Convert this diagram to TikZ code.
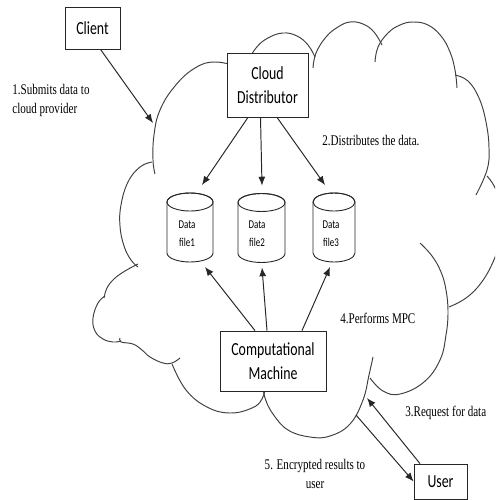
\documentclass[tikz,border=0pt]{standalone}
\usepackage{fontspec}
\setmainfont{Liberation Serif}[FakeStretch=0.75]
\newfontfamily\calibfont{Carlito}[FakeStretch=0.75]
\usetikzlibrary{arrows.meta,calc}
\tikzset{
  box/.style={draw=black!85, line width=0.45pt, fill=white, font=\calibfont\fontsize{10.5}{13.5}\selectfont, align=center, inner sep=0pt},
  arr/.style={draw=black!85, line width=0.55pt, -{Latex[length=5pt,width=4pt]}},
  cloudline/.style={draw=black!75, line width=0.55pt, smooth, tension=0.7},
  lbl/.style={font=\fontsize{8.4}{10.8}\selectfont, inner sep=0pt},
  dbtext/.style={font=\calibfont\fontsize{6.8}{10.2}\selectfont, align=center, inner sep=0pt},
  cylline/.style={draw=black!85, line width=0.5pt, fill=white},
  cylnode/.style={inner sep=0pt, outer sep=0pt, minimum height=1.38cm}
}
\newcommand\dbcyl[2]{%
  \draw[cylline] ($(#1.north west)+(0,9)$) -- ($(#1.south west)+(0,-9)$)
    arc[start angle=180,end angle=360,x radius=#2,y radius=0.18cm]
    -- ($(#1.north east)+(0,9)$)
    arc[start angle=0,end angle=180,x radius=#2,y radius=0.18cm] -- cycle;
  \draw[cylline,fill=none] ($(#1.north)+(0,9)$) ellipse[x radius=#2,y radius=0.18cm];}
\begin{document}
\begin{tikzpicture}[x=0.02cm,y=-0.02cm]
\useasboundingbox[fill=white] (0,0) rectangle (495,500);
% cloud
\begin{scope}
\clip (0,0) rectangle (495,500);
\draw[cloudline] plot coordinates {(155,174) (153,160) (154,135) (160,110) (175,86) (195,68) (215,62) (240,67)};
\draw[cloudline] plot coordinates {(245,66) (256,48) (268,38) (283,33) (297,36) (308,45) (315,57)};
\draw[cloudline] plot coordinates {(313,68) (316,53) (326,37) (338,27) (350,22) (363,24) (374,32) (382,45)};
\draw[cloudline] plot coordinates {(375,62) (378,47) (388,33) (400,25) (413,22) (428,25) (441,36) (450,52) (455,70) (457,88)};
\draw[cloudline] plot coordinates {(455,75) (468,81) (479,98) (486,122) (489,148) (487,170) (476,195)};
\draw[cloudline] plot coordinates {(487,176) (496,190) (502,215) (500,240) (493,262) (481,283) (466,298) (449,307)};
\draw[cloudline] plot coordinates {(420,243) (432,256) (441,272) (446,290) (448,312) (446,335) (440,360) (424,382) (400,394) (383,391) (370,378)};
\draw[cloudline] plot coordinates {(373,357) (369,375) (363,400) (350,424) (330,436) (310,437) (288,430) (273,414) (265,398) (263,385)};
\draw[cloudline] plot coordinates {(266,385) (262,399) (252,408) (230,413) (207,407) (186,390) (172,364)};
\draw[cloudline] plot coordinates {(152,162) (140,167) (128,182) (121,205) (120,226) (124,246) (131,260) (138,267)};
\draw[cloudline] plot coordinates {(138,264) (125,271) (114,279) (107,288) (104,298)};
\draw[cloudline] plot coordinates {(105,296) (98,303) (93,318) (95,331) (103,339) (113,342) (121,341)};
\draw[cloudline] plot coordinates {(120,338) (121,342) (133,344) (142,350) (150,357) (163,363) (172,363) (180,358)};
\end{scope}
% boxes
\node[box, minimum width=1.10cm, minimum height=0.84cm] (client) at (92.5,28) {Client};
\node[box, minimum width=1.62cm, minimum height=1.28cm] (dist) at (267.5,85) {Cloud\\Distributor};
\node[box, minimum width=2.12cm, minimum height=1.20cm] (mach) at (273,361) {Computational\\Machine};
\node[box, minimum width=1.06cm, minimum height=0.70cm] (user) at (440.5,481.5) {User};
% cylinders
\node[cylnode, minimum width=0.92cm] (cyl1) at (190,227.5) {};
\node[cylnode, minimum width=0.94cm] (cyl2) at (261.5,228) {};
\node[cylnode, minimum width=0.84cm] (cyl3) at (334,227.5) {};
\dbcyl{cyl1}{0.46cm}
\dbcyl{cyl2}{0.47cm}
\dbcyl{cyl3}{0.42cm}
\node[dbtext] (t1) at (187,234) {Data\\file1};
\node[dbtext] (t2) at (257,234) {Data\\file2};
\node[dbtext] (t3) at (331,234) {Data\\file3};
% free ends on the cloud
\coordinate (cloudin) at (153,123);
\coordinate (cloudreq) at (367,398);
\coordinate (cloudout) at (356,415);
% connectors
\draw[arr] ($(client.south)+(8,0)$) -- (cloudin);
\draw[arr] ($(dist.south)+(-19.5,0)$) -- ($(cyl1.north)+(12,-8)$);
\draw[arr] ($(dist.south)+(-7,0)$) -- ($(cyl2.north)+(0.5,-8)$);
\draw[arr] ($(dist.south)+(9.5,0)$) -- ($(cyl3.north)+(-9,-8)$);
\draw[arr] ($(mach.north)+(-18,0)$) -- ($(cyl1.south)+(15,5)$);
\draw[arr] ($(mach.north)+(-6,0)$) -- ($(cyl2.south)+(0.5,5)$);
\draw[arr] ($(mach.north)+(29,0)$) -- ($(cyl3.south)+(-4,5)$);
\draw[arr] ($(user.north)+(-20.5,0)$) -- (cloudreq);
\draw[arr] (cloudout) -- (user.west);
% labels
\node[lbl, anchor=west, align=left] (l1) at (12,100) {1.Submits data to\\cloud provider};
\node[lbl, anchor=west] (l2) at (322,140) {2.Distributes the data.};
\node[lbl, anchor=west] (l4) at (340,318) {4.Performs MPC};
\node[lbl, anchor=west] (l3) at (405,413) {3.Request for data};
\node[lbl, align=center] (l5) at (315,474) {5. Encrypted results to\\user};
\end{tikzpicture}
\end{document}
